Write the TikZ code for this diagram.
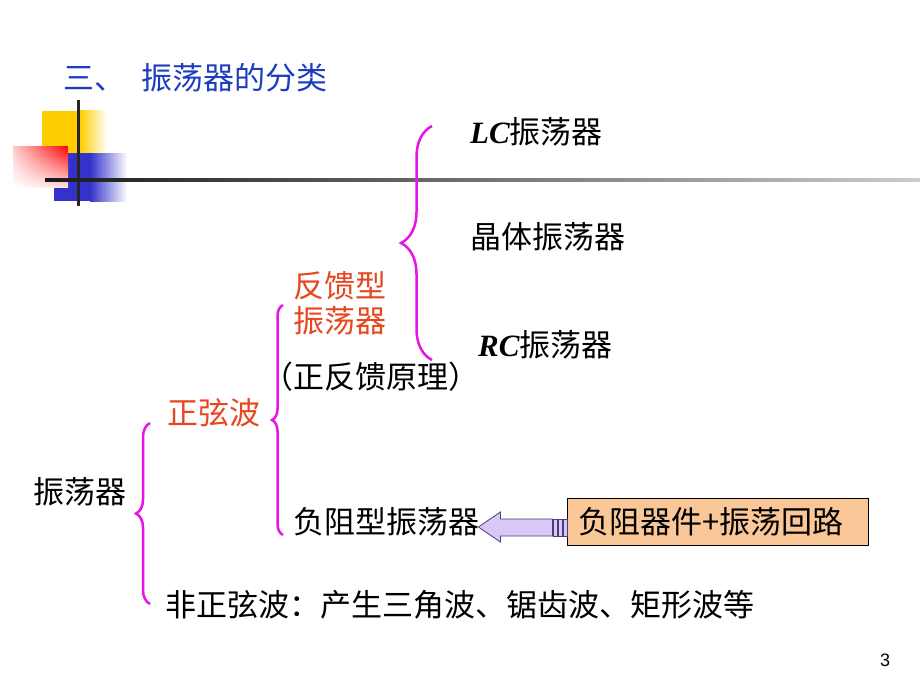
\documentclass[tikz,border=0pt]{standalone}
\usepackage{fontspec}
\setmainfont{Liberation Serif}
\newfontfamily\cjk{Noto Sans CJK SC}
\newfontfamily\latinfont{Liberation Serif}
\newfontfamily\numfont{Liberation Sans}
\usetikzlibrary{calc,decorations.pathreplacing,positioning,shadings}
\definecolor{titleblue}{RGB}{30,60,190}
\definecolor{hotred}{RGB}{232,70,30}
\definecolor{bracecol}{RGB}{230,20,230}
\definecolor{peach}{RGB}{250,200,152}
\definecolor{lavender}{RGB}{215,200,245}
\definecolor{arrowedge}{RGB}{80,60,120}
\definecolor{logoyellow}{RGB}{255,206,0}
\definecolor{logoblue}{RGB}{51,51,204}
\tikzset{
    txt/.style={anchor=west, inner sep=0pt, font=\cjk\fontsize{31}{37}\selectfont},
    redtxt/.style={txt, text=hotred},
    titletxt/.style={txt, text=titleblue},
    curly/.style={draw=bracecol, line width=2.5pt, decorate,
        decoration={brace, amplitude=#1, aspect=0.5}},
    boxed/.style={draw=black, fill=peach, line width=0.8pt, text width=279pt,
        align=left, minimum height=47pt, inner xsep=11pt, inner ysep=0pt,
        anchor=west, font=\cjk\fontsize{31}{37}\selectfont},
    arrowpart/.style={draw=arrowedge, fill=lavender, line width=0.8pt}
}

\begin{document}
\begin{tikzpicture}[x=1pt, y=-1pt]
    \useasboundingbox (0,0) rectangle (920,690);

    % logo
    \fill[logoyellow] (42,111) rectangle (80,153);
    \shade[left color=logoyellow, right color=white] (80,111) rectangle (107,153);
    \fill[logoblue] (54,153) rectangle (90,201);
    \shade[left color=logoblue, right color=white] (90,153) rectangle (127,201);
    \shade[upper left=red!20, upper right=red, lower left=white, lower right=red!12] (13,146) rectangle (68,187);
    \fill[black!85] (76.5,100) rectangle (79.5,206);
    \shade[left color=black!90, right color=black!20] (45,178.5) rectangle (920,181.5);

    % Nodes
    \node[titletxt] (title) at (63,78) {三、\hspace{16pt}振荡器的分类};
    \node[txt] (osc) at (33,492) {振荡器};
    \node[redtxt] (sine) at (167,413) {正弦波};
    \node[redtxt, align=left] (fb) at (293,303) {反馈型\\[-2pt]振荡器};
    \node[txt] (fbnote) at (262,377) {（正反馈原理）};
    \node[txt] (neg) at (293,522) {负阻型振荡器};
    \node[txt] (lc) at (470,132) {{\latinfont\bfseries\itshape LC}振荡器};
    \node[txt] (xtal) at (470,237) {晶体振荡器};
    \node[txt] (rc) at (478,345) {{\latinfont\bfseries\itshape RC}振荡器};
    \node[txt] (nonsine) at (165,605) {非正弦波：产生三角波、锯齿波、矩形波等};
    \node[boxed] (parts) at (567,521.5) {负阻器件+振荡回路};
    \node[font=\numfont\fontsize{18}{20}\selectfont] (page) at (885,660) {3};

    % braces
    \draw[curly=14pt] (150,604) -- (150,423);
    \draw[curly=11pt] (283,535) -- (283,305);
    \draw[curly=31pt] (432,360) -- (432,126);

    % arrow
    \coordinate (tip) at ($(neg.east)+(-1,5)$);
    \draw[arrowpart] (tip) -- ++(22,-15) -- ++(0,7) -- ++(52,0) -- ++(0,17)
        -- ++(-52,0) -- ++(0,6) -- cycle;
    \foreach \sx in {75,80,85}
        \draw[arrowpart] ($(tip)+(\sx,-8)$) rectangle ++(3.5,17);
\end{tikzpicture}
\end{document}
